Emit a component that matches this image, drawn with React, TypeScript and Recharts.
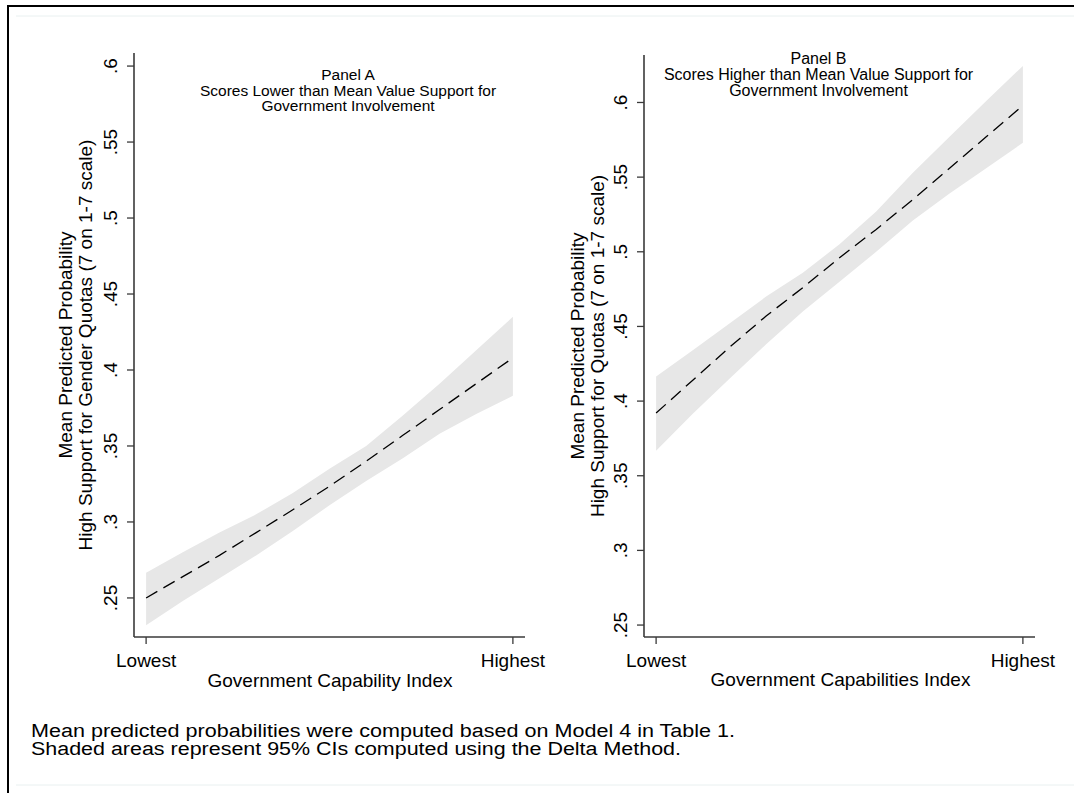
import React from "react";
import { ComposedChart, Area, Line, XAxis, YAxis } from "recharts";

const xValues = [0, 0.1, 0.2, 0.3, 0.4, 0.5, 0.6, 0.7, 0.8, 0.9, 1];
const xTicks = [0, 1];
const xTickLabels = ["Lowest", "Highest"];
const yTicks = [0.25, 0.3, 0.35, 0.4, 0.45, 0.5, 0.55, 0.6];
const yTickLabels = [".25", ".3", ".35", ".4", ".45", ".5", ".55", ".6"];

const panelAMean = [0.25, 0.264, 0.278, 0.293, 0.308, 0.3235, 0.34, 0.357, 0.374, 0.391, 0.408];
const panelALower = [0.232, 0.248, 0.263, 0.278, 0.294, 0.311, 0.327, 0.342, 0.358, 0.371, 0.383];
const panelAUpper = [0.2666, 0.28, 0.293, 0.305, 0.319, 0.335, 0.35, 0.37, 0.391, 0.413, 0.435];

const panelBMean = [0.392, 0.414, 0.436, 0.457, 0.476, 0.496, 0.515, 0.535, 0.556, 0.577, 0.598];
const panelBLower = [0.3667, 0.3915, 0.415, 0.438, 0.46, 0.48, 0.5, 0.521, 0.539, 0.556, 0.573];
const panelBUpper = [0.4165, 0.434, 0.452, 0.47, 0.486, 0.505, 0.527, 0.553, 0.577, 0.601, 0.6245];

const panelATitle = ["Panel A", "Scores Lower than Mean Value Support for", "Government Involvement"];
const panelBTitle = ["Panel B", "Scores Higher than Mean Value Support for", "Government Involvement"];
const panelAYTitle = ["Mean Predicted Probability", "High Support for Gender Quotas (7 on 1-7 scale)"];
const panelBYTitle = ["Mean Predicted Probability", "High Support for Quotas (7 on 1-7 scale)"];
const panelAXTitle = "Government Capability Index";
const panelBXTitle = "Government Capabilities Index";
const footnote = [
  "Mean predicted probabilities were computed based on Model 4 in Table 1.",
  "Shaded areas represent 95% CIs computed using the Delta Method.",
];

const FONT = "'Liberation Sans', Arial, Helvetica, sans-serif";
const AXIS = "#3a3a3a";

function buildData(mean: number[], lower: number[], upper: number[]) {
  return xValues.map((x, i) => ({ x, mean: mean[i], band: [lower[i], upper[i]] }));
}

const YTick = (props: any) => {
  const { x, y, payload } = props;
  const idx = yTicks.findIndex((t) => Math.abs(t - payload.value) < 1e-9);
  const bx = x - 8;
  return (
    <text
      x={bx}
      y={y}
      transform={`rotate(-90, ${bx}, ${y})`}
      textAnchor="middle"
      fontFamily={FONT}
      fontSize={19}
      fill="#000"
    >
      {idx >= 0 ? yTickLabels[idx] : ""}
    </text>
  );
};

const XTick = (props: any) => {
  const { x, y, payload } = props;
  const idx = xTicks.findIndex((t) => Math.abs(t - payload.value) < 1e-9);
  return (
    <text x={x} y={y + 21} textAnchor="middle" fontFamily={FONT} fontSize={19} fill="#000">
      {idx >= 0 ? xTickLabels[idx] : ""}
    </text>
  );
};

function Panel(props: {
  data: any[];
  width: number;
  margin: any;
  yDomain: [number, number];
}) {
  const { data, width, margin, yDomain } = props;
  return (
    <ComposedChart width={width} height={793} data={data} margin={margin}>
      <XAxis
        type="number"
        dataKey="x"
        domain={[-0.033, 1.033]}
        ticks={xTicks}
        height={40}
        tickSize={7}
        tick={<XTick />}
        axisLine={{ stroke: AXIS, strokeWidth: 1.6 }}
        tickLine={{ stroke: AXIS, strokeWidth: 1.3 }}
        allowDataOverflow
      />
      <YAxis
        type="number"
        domain={yDomain}
        ticks={yTicks}
        width={60}
        tickSize={7}
        tick={<YTick />}
        axisLine={{ stroke: AXIS, strokeWidth: 1.6 }}
        tickLine={{ stroke: AXIS, strokeWidth: 1.3 }}
        allowDataOverflow
      />
      <Area
        type="linear"
        dataKey="band"
        stroke="none"
        fill="#e7e7e7"
        fillOpacity={1}
        isAnimationActive={false}
        dot={false}
        activeDot={false}
      />
      <Line
        type="linear"
        dataKey="mean"
        stroke="#000"
        strokeWidth={1.3}
        strokeDasharray="13 7"
        dot={false}
        activeDot={false}
        isAnimationActive={false}
      />
    </ComposedChart>
  );
}

function RotLines(props: { lines: string[]; xs: number[]; yc: number; size: number }) {
  return (
    <>
      {props.lines.map((t, i) => (
        <text
          key={i}
          x={props.xs[i]}
          y={props.yc}
          transform={`rotate(-90, ${props.xs[i]}, ${props.yc})`}
          textAnchor="middle"
          fontFamily={FONT}
          fontSize={props.size}
          fill="#000"
        >
          {t}
        </text>
      ))}
    </>
  );
}

export default function App() {
  const dataA = buildData(panelAMean, panelALower, panelAUpper);
  const dataB = buildData(panelBMean, panelBLower, panelBUpper);
  return (
    <div style={{ position: "relative", width: 1074, height: 793, background: "#fff", overflow: "hidden" }}>
      <style>{`body{margin:0;}`}</style>
      <div style={{ position: "absolute", left: 0, top: 0 }}>
        <Panel
          data={dataA}
          width={560}
          margin={{ top: 53, right: 35, bottom: 116, left: 74 }}
          yDomain={[0.2243, 0.6086]}
        />
      </div>
      <div style={{ position: "absolute", left: 560, top: 0 }}>
        <Panel
          data={dataB}
          width={514}
          margin={{ top: 55, right: 39, bottom: 116, left: 24 }}
          yDomain={[0.242, 0.6318]}
        />
      </div>
      <svg
        width={1074}
        height={793}
        style={{ position: "absolute", left: 0, top: 0, pointerEvents: "none" }}
      >
        <line x1={7} y1={6} x2={1074} y2={6} stroke="#000" strokeWidth={2} />
        <line x1={8} y1={5} x2={8} y2={793} stroke="#000" strokeWidth={2} />
        <line x1={16} y1={16} x2={1074} y2={16} stroke="#e9f0f0" strokeWidth={1} />
        <line x1={16} y1={785} x2={1074} y2={785} stroke="#e9f0f0" strokeWidth={1} />

        {panelATitle.map((t, i) => (
          <text key={"a" + i} x={348} y={80 + i * 15.5} textAnchor="middle" fontFamily={FONT} fontSize={15.5} fill="#000">
            {t}
          </text>
        ))}
        {panelBTitle.map((t, i) => (
          <text key={"b" + i} x={818.5} y={64 + i * 15.8} textAnchor="middle" fontFamily={FONT} fontSize={16} fill="#000">
            {t}
          </text>
        ))}

        <RotLines lines={panelAYTitle} xs={[72, 92]} yc={345} size={19} />
        <RotLines lines={panelBYTitle} xs={[584, 604]} yc={346} size={19} />

        <text x={330} y={686.5} textAnchor="middle" fontFamily={FONT} fontSize={19} fill="#000">
          {panelAXTitle}
        </text>
        <text x={840.5} y={686} textAnchor="middle" fontFamily={FONT} fontSize={19} fill="#000">
          {panelBXTitle}
        </text>

        <text x={31} y={737} fontFamily={FONT} fontSize={18} fill="#000" textLength={704} lengthAdjust="spacingAndGlyphs">
          {footnote[0]}
        </text>
        <text x={31} y={755} fontFamily={FONT} fontSize={18} fill="#000" textLength={650} lengthAdjust="spacingAndGlyphs">
          {footnote[1]}
        </text>
      </svg>
    </div>
  );
}
